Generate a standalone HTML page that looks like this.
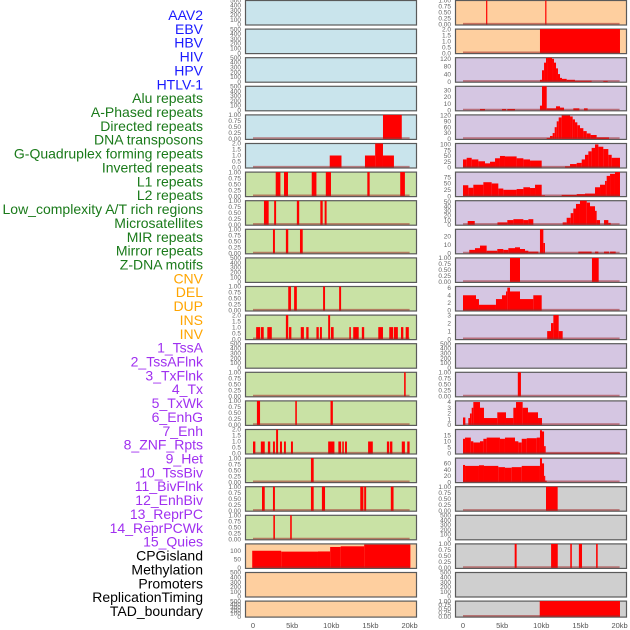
<!DOCTYPE html>
<html><head><meta charset="utf-8">
<style>
html,body{margin:0;padding:0;background:#fff;}
svg{display:block;font-family:"Liberation Sans",sans-serif;}
</style></head>
<body>
<svg id="chart" width="630" height="630" viewBox="0 0 630 630"></svg>
<script>
// ---- data ----
const labels = ["AAV2","EBV","HBV","HIV","HPV","HTLV-1","Alu repeats","A-Phased repeats","Directed repeats","DNA transposons","G-Quadruplex forming repeats","Inverted repeats","L1 repeats","L2 repeats","Low_complexity A/T rich regions","Microsatellites","MIR repeats","Mirror repeats","Z-DNA motifs","CNV","DEL","DUP","INS","INV","1_TssA","2_TssAFlnk","3_TxFlnk","4_Tx","5_TxWk","6_EnhG","7_Enh","8_ZNF_Rpts","9_Het","10_TssBiv","11_BivFlnk","12_EnhBiv","13_ReprPC","14_ReprPCWk","15_Quies","CPGisland","Methylation","Promoters","ReplicationTiming","TAD_boundary"];
const labelColors = ["#1a1aff","#1a1aff","#1a1aff","#1a1aff","#1a1aff","#1a1aff",
 "#1a7a1a","#1a7a1a","#1a7a1a","#1a7a1a","#1a7a1a","#1a7a1a","#1a7a1a","#1a7a1a","#1a7a1a","#1a7a1a","#1a7a1a","#1a7a1a","#1a7a1a",
 "#ffa500","#ffa500","#ffa500","#ffa500","#ffa500",
 "#a030f0","#a030f0","#a030f0","#a030f0","#a030f0","#a030f0","#a030f0","#a030f0","#a030f0","#a030f0","#a030f0","#a030f0","#a030f0","#a030f0","#a030f0",
 "#000","#000","#000","#000","#000"];
const panelBg = ["#c9e4ec","#c9e4ec","#c9e4ec","#c9e4ec","#c9e4ec","#c9e4ec",
 "#c9e2a5","#c9e2a5","#c9e2a5","#c9e2a5","#c9e2a5","#c9e2a5","#c9e2a5","#c9e2a5","#c9e2a5","#c9e2a5","#c9e2a5","#c9e2a5","#c9e2a5",
 "#fecf9f","#fecf9f","#fecf9f","#fecf9f","#fecf9f",
 "#d5c6e2","#d5c6e2","#d5c6e2","#d5c6e2","#d5c6e2","#d5c6e2","#d5c6e2","#d5c6e2","#d5c6e2","#d5c6e2","#d5c6e2","#d5c6e2","#d5c6e2","#d5c6e2","#d5c6e2",
 "#cfcfcf","#cfcfcf","#cfcfcf","#cfcfcf","#cfcfcf"];
const yMax = [500,500,500,500,1,2,1,1,1,500,1,2,500,1,1,2,1,1,1,140,500,500,
  1,2,126,36,123,104,95,52,28,1,6.3,3,500,1,4.2,19.6,77,1,500,1,500,1];
const T500=[0,100,200,300,400,500], T1=[0,0.25,0.5,0.75,1], T2=[0,0.5,1,1.5,2];
const yTicks = [T500,T500,T500,T500,T1,T2,T1,T1,T1,T500,T1,T2,T500,T1,T1,T2,T1,T1,T1,[0,50,100],T500,T500,
  T1,T2,[0,40,80,120],[0,10,20,30],[0,30,60,90,120],[0,25,50,75,100],[0,25,50,75],[0,10,20,30,40,50],[0,10,20],T1,[0,2,4,6],[0,1,2,3],T500,T1,[0,1,2,3,4],[0,5,10,15],[0,20,40,60],T1,T500,T1,T500,T1];
// segments: [startKb, endKb, value]
const series = [
 [],[],[],[],
 [[16.6,19.0,1]],
 [[9.8,11.3,1],[14.3,15.6,1],[15.6,16.6,2],[16.6,18.0,1]],
 [[2.9,3.5,1],[3.96,4.47,1],[7.5,8.1,1],[9.3,9.96,1],[14.6,14.9,1],[18.8,19.4,1]],
 [[1.4,2.0,1],[2.7,2.95,1],[5.6,5.9,1],[8.6,8.9,1],[9.15,9.4,1]],
 [[2.55,2.8,1],[4.2,4.5,1],[6.0,6.35,1]],
 [],
 [[4.5,4.85,1],[5.25,5.6,1],[8.95,9.2,1],[11.0,11.25,1]],
 [[0.4,0.9,1],[1.0,1.37,1],[1.83,2.4,1],[4.2,4.5,2],[4.6,4.9,1],[6.1,6.5,1],[6.8,7.1,1],[8.1,8.4,1],[8.55,8.8,1],[9.6,9.85,2],[9.96,10.3,1],[12.3,12.5,1],[12.8,13.5,1],[13.9,14.2,1],[16.0,16.6,1],[17.4,17.9,1],[18.0,18.5,1],[18.9,19.2,1],[19.5,19.9,1]],
 [],
 [[19.3,19.5,1]],
 [[0.5,0.9,1],[5.4,5.6,1],[9.9,10.2,1]],
 [[0,0.3,1],[1.0,1.5,1],[1.9,2.2,1],[2.55,2.8,1],[2.95,3.2,2],[3.45,3.7,1],[3.96,4.2,1],[4.85,5.1,1],[9.6,10.4,1],[10.9,11.25,1],[11.4,11.6,1],[11.75,12.0,1],[14.7,15.3,1],[17.1,17.4,1],[17.5,17.8,1],[19.0,19.4,1],[19.7,20.0,1]],
 [[7.4,7.75,1]],
 [[1.15,1.5,1],[2.55,2.8,1],[7.4,7.75,1],[8.8,9.2,1],[13.7,14.1,1],[14.2,14.45,1],[17.6,17.95,1]],
 [[2.6,2.8,1],[4.75,4.95,1]],
 [[-0.1,3.6,100],[3.6,8.3,95],[8.3,9.85,96],[9.85,11.2,122],[11.2,14.2,126],[14.2,20.1,136]],
 [],[],
 // right column
 [[2.95,3.1,1],[10.5,10.65,1]],
 [[9.83,20.05,2]],
 [[9.83,10.09,10],[10.09,10.35,60],[10.35,10.6,100],[10.6,10.85,125],[10.85,11.37,130],[11.37,11.62,120],[11.62,11.88,100],[11.88,12.13,70],[12.13,12.39,40],[12.39,12.64,20],[12.64,13.24,15],[13.24,14.3,10],[14.3,16.43,5],[17.92,18.48,4]],
 [[2.17,2.81,2],[4.98,5.49,2],[5.66,6.64,2],[9.83,10.09,7],[10.09,10.69,36],[10.69,11.88,3],[11.88,12.39,6],[12.39,12.9,4],[14.09,14.86,3],[15.45,15.92,3]],
 [[10.69,11.11,5],[11.11,11.45,15],[11.45,11.71,30],[11.71,11.97,60],[11.97,12.22,90],[12.22,12.6,110],[12.6,13.67,120],[13.67,14.01,115],[14.01,14.3,100],[14.3,14.6,85],[14.6,14.94,70],[14.94,15.37,55],[15.37,15.8,40],[15.8,16.3,28],[16.3,17.07,20],[17.07,18.65,8]],
 [[0,0.47,35],[0.47,1.11,42],[1.11,1.96,35],[1.96,2.81,27],[2.81,3.45,18],[3.45,4.09,25],[4.09,4.72,40],[4.72,5.36,50],[5.36,6.85,48],[6.85,7.71,40],[7.71,8.56,35],[8.56,10.05,30],[13.03,13.67,5],[13.67,14.52,15],[14.52,15.16,20],[15.16,15.58,35],[15.58,16.01,55],[16.01,16.43,70],[16.43,16.86,85],[16.86,17.29,100],[17.29,17.92,90],[17.92,18.56,80],[18.56,18.99,55],[18.99,20.05,42]],
 [[0,0.68,43],[0.68,1.32,33],[1.32,2.6,45],[2.6,3.66,55],[3.66,4.51,50],[4.51,5.15,30],[5.15,6.85,25],[6.85,7.71,28],[7.71,8.56,35],[8.56,9.2,32],[9.2,10.05,45],[10.05,10.47,3],[12.6,14.52,5],[14.52,15.58,8],[15.58,16.86,10],[16.86,17.5,35],[17.5,18.14,45],[18.14,18.35,60],[18.35,18.78,80],[18.78,19.41,88],[19.41,20.05,95]],
 [[0.6,1.5,8],[4.4,5.66,5],[5.66,6.43,10],[6.43,7.71,12],[7.71,8.35,10],[8.35,8.98,12],[12.73,13.24,5],[13.24,13.75,15],[13.75,14.09,25],[14.09,14.43,35],[14.43,14.94,45],[14.94,15.8,52],[15.8,16.22,48],[16.22,16.86,40],[16.86,17.07,30],[17.07,17.5,10],[18.01,18.56,10],[18.56,18.86,4]],
 [[0.8,1.53,4],[1.53,2.17,6],[2.17,3.02,9],[3.02,4.38,3],[4.38,5.15,5],[5.15,5.79,4],[5.79,6.64,6],[6.64,7.28,7],[7.28,7.92,5],[7.92,8.35,3],[8.35,9.62,2],[9.83,10.26,28],[10.26,10.47,12],[14.73,16.43,2],[16.86,17.29,2],[18.01,18.65,2],[18.78,19.5,2]],
 [[6.0,7.28,1],[16.47,17.33,1]],
 [[0,1.66,4],[1.66,2.04,3],[2.04,4.21,1.5],[4.21,4.98,3],[4.98,5.49,4],[5.49,5.66,5],[5.66,6.0,6],[6.0,7.28,5],[7.28,8.98,3],[8.98,10.05,4]],
 [[10.75,11.24,1],[11.24,11.54,2],[11.54,12.22,3],[12.22,12.73,1]],
 [],
 [[7.0,7.4,1]],
 [[0,0.3,1.3],[0.68,0.89,1.2],[0.89,1.11,2],[1.11,1.32,3],[1.32,2.17,4],[2.17,2.68,3],[2.68,4.38,1.2],[4.38,5.49,2.2],[5.49,6.43,1.2],[6.43,6.77,3],[6.77,7.62,4],[7.62,8.3,3],[8.3,9.58,2.2],[9.58,10.09,1.2]],
 [[0,0.26,12],[0.26,1.0,13],[1.0,1.32,10],[1.32,2.17,9],[2.17,2.6,10],[2.6,3.02,12],[3.02,4.72,13],[4.72,5.36,12],[5.36,6.64,13],[6.64,7.07,10],[7.07,7.5,9],[7.5,8.14,12],[8.14,9.41,12.5],[9.41,9.83,13],[9.83,10.09,19],[10.09,10.35,18],[10.35,10.56,6],[10.56,20.05,0.6]],
 [[0,0.26,55],[0.26,2.04,52],[2.04,2.68,54],[2.68,4.51,52],[4.51,5.36,48],[5.36,6.22,46],[6.22,7.5,48],[7.5,9.83,52],[9.83,10.09,78],[10.09,10.35,60],[10.35,10.47,20],[10.47,10.69,5]],
 [[10.6,12.09,1]],
 [],
 [[6.6,6.85,1],[11.25,12.1,1],[13.7,13.9,1],[14.8,15.2,1],[17.0,17.2,1]],
 [],
 [[9.8,20.05,1]]
];
const xTickKb = [0,5,10,15,20];
const xTickLabels = ["0","5kb","10kb","15kb","20kb"];

// ---- layout ----
const NS="http://www.w3.org/2000/svg";
const svg=document.getElementById('chart');
const colX=[245,455];
const panelW=171;
const x0=[253,463];
const kbPx=7.83;
function xScale(col,kb){return x0[col]+Math.max(kb,-0.1)*kbPx;}
function rowTop(r){return r*28.6;}
function rowH(r){return r===21?16:24.5;}
function mk(tag,attrs){const e=document.createElementNS(NS,tag);for(const k in attrs)e.setAttribute(k,attrs[k]);return e;}
function fmt(v,ticks){const mx=ticks[ticks.length-1];
  if(mx===1) return v.toFixed(2);
  if(mx===2) return v.toFixed(1);
  return String(v);}

// labels
labels.forEach((t,i)=>{
  const tx=mk('text',{x:203,y:20+i*13.86,'text-anchor':'end','font-size':'14',fill:labelColors[i]});
  tx.textContent=t;
  
  
  svg.appendChild(tx);
});

// panels
for(let i=0;i<44;i++){
  const col=i<22?0:1, row=i%22;
  const top=rowTop(row), h=rowH(row), bottom=top+h;
  const g=mk('g',{});
  
  
  svg.appendChild(g);
  const bg=mk('rect',{x:colX[col]+0.5,y:top+0.5,width:panelW,height:h,fill:panelBg[i],stroke:'#5a5a5a','stroke-width':1.2});
  
  
  g.appendChild(bg);
  const ym=yMax[i];
  const yS=v=>bottom-Math.min(v,ym)/ym*(h-0.5);
  // ticks
  yTicks[i].forEach(v=>{
    const t=mk('text',{x:colX[col]-4,y:yS(v)+2.2,'text-anchor':'end','font-size':'6.5',fill:'#666'});
    t.textContent=fmt(v,yTicks[i]);
    
    
    g.appendChild(t);
  });
  const segs=series[i];
  if(segs.length){
    segs.forEach(s=>{
      const xa=xScale(col,s[0]), xb=xScale(col,s[1]);
      const r=mk('rect',{x:xa,y:yS(s[2]),width:Math.max(xb-xa,1.2),height:bottom-yS(s[2]),fill:'#ff0000'});
      
      
      g.appendChild(r);
    });
    const bl=mk('line',{x1:xScale(col,0),x2:xScale(col,20),y1:bottom-0.8,y2:bottom-0.8,stroke:'rgba(160,40,40,0.55)','stroke-width':1.6});
    
    
    g.appendChild(bl);
  }
}
// x axes
[0,1].forEach(col=>{
  xTickKb.forEach((kb,j)=>{
    const t=mk('text',{x:xScale(col,kb),y:628,'text-anchor':'middle','font-size':'7.5',fill:'#555'});
    t.textContent=xTickLabels[j];
    
    
    svg.appendChild(t);
  });
});
</script>
</body></html>
